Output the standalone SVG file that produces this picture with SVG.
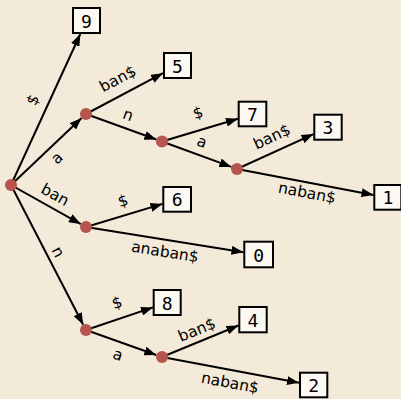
<svg xmlns="http://www.w3.org/2000/svg" width="401" height="399" viewBox="0 0 401 399">
  <defs>
    <marker id="arrow" markerUnits="userSpaceOnUse" markerWidth="13" markerHeight="9" refX="12" refY="4.5" orient="auto">
      <path d="M0,0 L12,4.5 L0,9 z" fill="#000"/>
    </marker>
    <style>
      .edge { stroke: #000; stroke-width: 2; fill: none; marker-end: url(#arrow); }
      .node { fill: #b5554d; }
      .leaf rect { fill: #fcf9f3; stroke: #000; stroke-width: 2; }
      .leaf text { font-family: "DejaVu Sans Mono", "Liberation Mono", monospace; font-size: 18px; text-anchor: middle; dominant-baseline: central; fill: #000; }
      .lbl { font-family: "DejaVu Sans", "Liberation Sans", sans-serif; font-size: 15.5px; text-anchor: middle; dominant-baseline: central; fill: #000; }
    </style>
  </defs>
  <rect width="401" height="399" fill="#f3ead9"/>

  <!-- connectors -->
  <g id="connectors">
    <line class="edge" x1="11" y1="185" x2="80.3" y2="34"/>
    <line class="edge" x1="11" y1="185" x2="81.6" y2="118.1"/>
    <line class="edge" x1="11" y1="185" x2="80.8" y2="224.1"/>
    <line class="edge" x1="11" y1="185" x2="83.2" y2="324.7"/>
    <line class="edge" x1="86" y1="114" x2="163" y2="73.2"/>
    <line class="edge" x1="86" y1="114" x2="156.4" y2="139.5"/>
    <line class="edge" x1="162" y1="141.5" x2="238" y2="118.8"/>
    <line class="edge" x1="162" y1="141.5" x2="231.4" y2="166.9"/>
    <line class="edge" x1="237" y1="169" x2="313.5" y2="134.1"/>
    <line class="edge" x1="237" y1="169" x2="373.5" y2="194.9"/>
    <line class="edge" x1="86" y1="227" x2="162.5" y2="203.9"/>
    <line class="edge" x1="86" y1="227" x2="243.5" y2="252.2"/>
    <line class="edge" x1="86" y1="330" x2="153" y2="307.4"/>
    <line class="edge" x1="86" y1="330" x2="156.3" y2="355"/>
    <line class="edge" x1="162" y1="357" x2="238.5" y2="325.5"/>
    <line class="edge" x1="162" y1="357" x2="299" y2="382.8"/>
  </g>

  <!-- edge labels -->
  <g id="edge-labels">
    <text class="lbl" transform="translate(33,100) rotate(-65.3)">$</text>
    <text class="lbl" transform="translate(57,158) rotate(-43.4)">a</text>
    <text class="lbl" transform="translate(55,195) rotate(29)">ban</text>
    <text class="lbl" transform="translate(58,252) rotate(62.6)">n</text>
    <text class="lbl" transform="translate(118,79) rotate(-27.9)">ban$</text>
    <text class="lbl" transform="translate(128,115) rotate(20.2)">n</text>
    <text class="lbl" transform="translate(198,113) rotate(-16.6)">$</text>
    <text class="lbl" transform="translate(202,142) rotate(20.5)">a</text>
    <text class="lbl" transform="translate(272,137) rotate(-24.8)">ban$</text>
    <text class="lbl" transform="translate(307,193) rotate(10.8)">naban$</text>
    <text class="lbl" transform="translate(123,201) rotate(-16.8)">$</text>
    <text class="lbl" transform="translate(165,252) rotate(9.05)">anaban$</text>
    <text class="lbl" transform="translate(117,303) rotate(-18.7)">$</text>
    <text class="lbl" transform="translate(118,355) rotate(19.6)">a</text>
    <text class="lbl" transform="translate(197,330) rotate(-22.3)">ban$</text>
    <text class="lbl" transform="translate(230,383) rotate(10.5)">naban$</text>
  </g>

  <!-- internal nodes -->
  <g id="n-root"><circle class="node" cx="11" cy="185" r="6"/></g>
  <g id="n-a"><circle class="node" cx="86" cy="114" r="6"/></g>
  <g id="n-an"><circle class="node" cx="162" cy="141.5" r="6"/></g>
  <g id="n-ana"><circle class="node" cx="237" cy="169" r="6"/></g>
  <g id="n-ban"><circle class="node" cx="86" cy="227" r="6"/></g>
  <g id="n-n"><circle class="node" cx="86" cy="330" r="6"/></g>
  <g id="n-na"><circle class="node" cx="162" cy="357" r="6"/></g>

  <!-- leaves -->
  <g id="leaf-9" class="leaf"><rect x="73" y="8" width="27" height="25"/><text x="86.5" y="21">9</text></g>
  <g id="leaf-5" class="leaf"><rect x="164" y="53" width="27" height="25"/><text x="177.5" y="66">5</text></g>
  <g id="leaf-7" class="leaf"><rect x="238.7" y="101.7" width="27.6" height="24.6"/><text x="252.5" y="114.5">7</text></g>
  <g id="leaf-3" class="leaf"><rect x="314.3" y="114.7" width="27.4" height="25"/><text x="328" y="127.7">3</text></g>
  <g id="leaf-1" class="leaf"><rect x="374.3" y="185" width="27" height="24.7"/><text x="387.8" y="197.8">1</text></g>
  <g id="leaf-6" class="leaf"><rect x="163.3" y="187" width="27.7" height="24.7"/><text x="177.1" y="199.8">6</text></g>
  <g id="leaf-0" class="leaf"><rect x="244.3" y="241.7" width="28.7" height="25.6"/><text x="258.6" y="255">0</text></g>
  <g id="leaf-8" class="leaf"><rect x="153.7" y="290" width="27" height="25"/><text x="167.2" y="303">8</text></g>
  <g id="leaf-4" class="leaf"><rect x="239.3" y="307" width="27.4" height="25.3"/><text x="253" y="320.2">4</text></g>
  <g id="leaf-2" class="leaf"><rect x="300" y="372.7" width="27.3" height="24.6"/><text x="313.6" y="385.5">2</text></g>
</svg>
